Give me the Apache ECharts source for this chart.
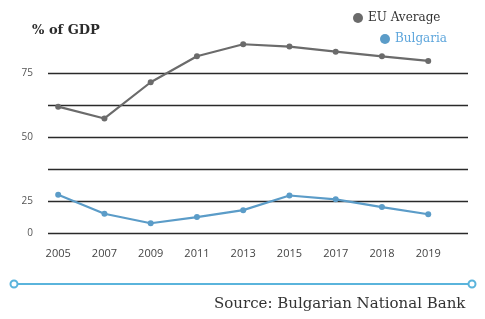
<!DOCTYPE html>
<html>
<head>
<meta charset="utf-8">
<script src="https://cdn.jsdelivr.net/npm/echarts@6/dist/echarts.min.js"></script>
<style>
    html, body { margin: 0; padding: 0; background: #fff; }
    #main { width: 485px; height: 319px; }
</style>
</head>
<body>
<div id="main"></div>
<script>
var years = ['2005', '2007', '2009', '2011', '2013', '2015', '2017', '2018', '2019'];
var euAverage = [61.9, 57.3, 71.4, 81.5, 86.2, 85.3, 83.3, 81.5, 79.7];
var bulgaria = [27.6, 20.2, 16.5, 18.9, 21.6, 27.3, 25.8, 22.8, 20.0];
// the source's axis is broken: the bottom line is printed as "0"
var yTickValues = [12.5, 25, 37.5, 50, 62.5, 75];
var yTickLabels = ['0', '25', '', '50', '', '75'];

var chart = (function () {
    var Return = {
        init: function () {
            initChart();
        }
    }
    var toPoints = function (arr) {
        return arr.map(function (v, i) { return [i, v]; });
    }
    var initChart = function () {
        var myChart = echarts.init(document.getElementById('main'));
        var option = {
            animation: false,
            title: {
                text: '% of GDP',
                left: 27,
                top: 19,
                textStyle: {
                    fontFamily: 'DejaVu Serif',
                    fontWeight: 'bold',
                    fontSize: 13,
                    color: '#2b2b2b'
                }
            },
            legend: [{
                data: ['EU Average'],
                left: 348,
                top: 7,
                icon: 'circle',
                itemWidth: 10,
                itemHeight: 10,
                textStyle: {
                    fontFamily: 'DejaVu Serif',
                    fontSize: 12,
                    color: '#333'
                }
            }, {
                data: ['Bulgaria'],
                left: 375,
                top: 28,
                icon: 'circle',
                itemWidth: 10,
                itemHeight: 10,
                textStyle: {
                    fontFamily: 'DejaVu Serif',
                    fontSize: 12,
                    color: '#5ea6dc'
                }
            }],
            grid: {
                left: 48,
                right: 17,
                top: 73,
                bottom: 85.5
            },
            xAxis: {
                type: 'value',
                min: -0.22,
                max: 8.86,
                axisLine: { show: false },
                axisTick: { show: false },
                splitLine: { show: false },
                axisLabel: {
                    customValues: years.map(function (y, i) { return i; }),
                    formatter: function (v) { return years[v]; },
                    margin: 15,
                    fontFamily: 'Open Sans',
                    fontSize: 11,
                    color: '#444'
                }
            },
            yAxis: {
                type: 'value',
                min: 12.5,
                max: 75,
                interval: 12.5,
                axisLine: { show: false },
                axisTick: { show: false },
                axisLabel: {
                    margin: 15,
                    fontFamily: 'Open Sans',
                    fontSize: 10,
                    color: '#555',
                    formatter: function (v) {
                        var i = yTickValues.indexOf(v);
                        return i < 0 ? '' : yTickLabels[i];
                    }
                },
                splitLine: {
                    lineStyle: {
                        color: '#2a2a2a',
                        width: 1.3
                    }
                }
            },
            series: [{
                name: 'EU Average',
                type: 'line',
                data: toPoints(euAverage),
                clip: false,
                symbol: 'circle',
                symbolSize: 6,
                itemStyle: { color: '#6b6b6b' },
                lineStyle: { color: '#6b6b6b', width: 2.2 }
            }, {
                name: 'Bulgaria',
                type: 'line',
                data: toPoints(bulgaria),
                clip: false,
                symbol: 'circle',
                symbolSize: 6,
                itemStyle: { color: '#5b9cc8' },
                lineStyle: { color: '#5b9cc8', width: 2.2 }
            }],
            graphic: [{
                type: 'line',
                shape: { x1: 18, y1: 284, x2: 468, y2: 284 },
                style: { stroke: '#5ab4dc', lineWidth: 2 }
            }, {
                type: 'circle',
                shape: { cx: 14, cy: 284, r: 3.5 },
                style: { fill: '#fff', stroke: '#5ab4dc', lineWidth: 2 }
            }, {
                type: 'circle',
                shape: { cx: 472, cy: 284, r: 3.5 },
                style: { fill: '#fff', stroke: '#5ab4dc', lineWidth: 2 }
            }, {
                type: 'text',
                left: 214,
                top: 297,
                style: {
                    text: 'Source: Bulgarian National Bank',
                    font: '15px "DejaVu Serif"',
                    fill: '#333'
                }
            }]
        };
        myChart.setOption(option);
    }
    return Return;
})();

; (function () {
    chart.init();
})();
</script>
</body>
</html>
